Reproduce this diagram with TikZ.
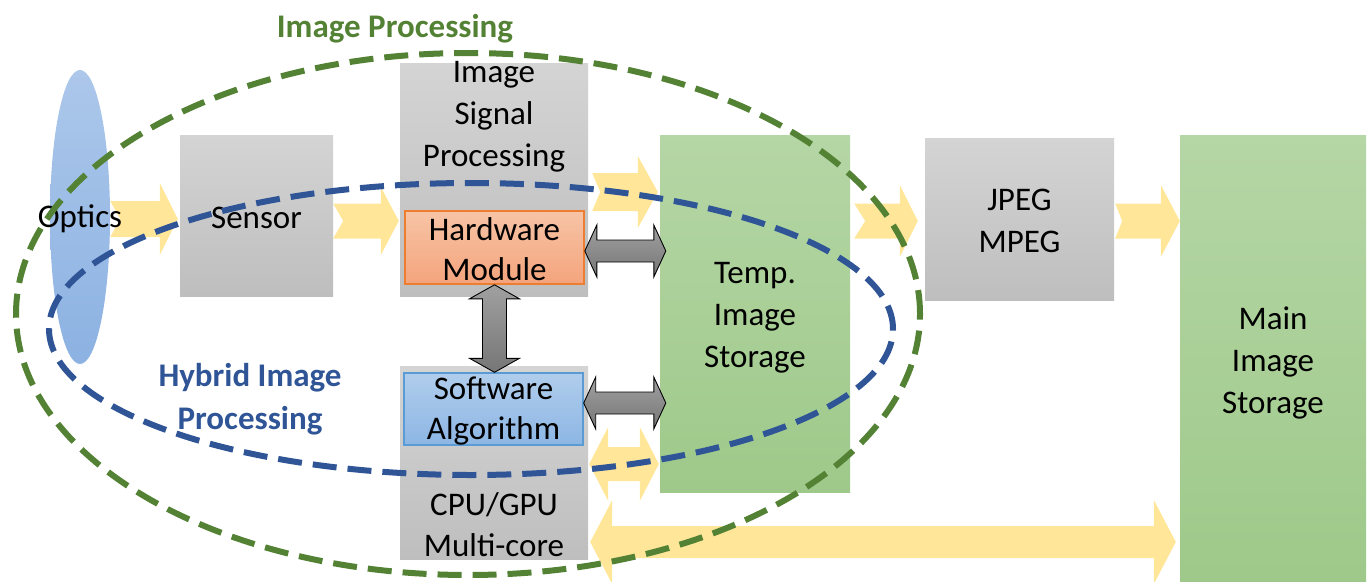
\documentclass[tikz,border=0pt]{standalone}
\usepackage{fontspec}
\setmainfont{Carlito}
\usetikzlibrary{calc,shapes.geometric}

\definecolor{graytop}{RGB}{212,212,212}
\definecolor{graybot}{RGB}{190,190,190}
\definecolor{greentop}{RGB}{181,214,165}
\definecolor{greenbot}{RGB}{158,201,138}
\definecolor{hwtop}{RGB}{247,196,166}
\definecolor{hwbot}{RGB}{244,164,124}
\definecolor{hwline}{RGB}{237,125,49}
\definecolor{swtop}{RGB}{176,205,236}
\definecolor{swbot}{RGB}{141,182,228}
\definecolor{swline}{RGB}{91,155,213}
\definecolor{lenstop}{RGB}{172,199,234}
\definecolor{lensbot}{RGB}{140,178,226}
\definecolor{flowyellow}{RGB}{255,230,153}
\definecolor{arrtop}{RGB}{160,160,160}
\definecolor{arrbot}{RGB}{118,118,118}
\definecolor{ringgreen}{RGB}{84,130,53}
\definecolor{ringblue}{RGB}{47,85,151}

% right-pointing block arrow with a notched tail
% #1 style, #2 tail point, #3 tip point, #4 half shaft, #5 half head, #6 head length, #7 notch depth
\newcommand{\rblock}[7]{%
  \path[#1] let \p1=#2, \p2=#3 in
    (\x1+#7,\y1) -- (\x1,\y1+#4) -- (\x2-#6,\y1+#4) -- (\x2-#6,\y1+#5) -- (\x2,\y1)
    -- (\x2-#6,\y1-#5) -- (\x2-#6,\y1-#4) -- (\x1,\y1-#4) -- cycle;}
% horizontal double-headed block arrow
% #1 style, #2 left tip, #3 right tip, #4 half shaft, #5 half head, #6 head length
\newcommand{\hdouble}[6]{%
  \path[#1] let \p1=#2, \p2=#3 in
    (\x1,\y1) -- (\x1+#6,\y1+#5) -- (\x1+#6,\y1+#4) -- (\x2-#6,\y1+#4) -- (\x2-#6,\y1+#5)
    -- (\x2,\y1) -- (\x2-#6,\y1-#5) -- (\x2-#6,\y1-#4) -- (\x1+#6,\y1-#4) -- (\x1+#6,\y1-#5) -- cycle;}
% vertical double-headed block arrow
% #1 style, #2 top tip, #3 bottom tip, #4 half shaft, #5 half head, #6 head length
\newcommand{\vdouble}[6]{%
  \path[#1] let \p1=#2, \p2=#3 in
    (\x1,\y1) -- (\x1+#5,\y1-#6) -- (\x1+#4,\y1-#6) -- (\x1+#4,\y2+#6) -- (\x1+#5,\y2+#6)
    -- (\x1,\y2) -- (\x1-#5,\y2+#6) -- (\x1-#4,\y2+#6) -- (\x1-#4,\y1-#6) -- (\x1-#5,\y1-#6) -- cycle;}

\tikzset{
  txt/.style={font=\fontsize{33}{42}\selectfont, align=center, text=black, inner sep=0pt},
  tighttxt/.style={font=\fontsize{33}{40}\selectfont},
  graybox/.style={rectangle, inner sep=0pt, top color=graytop, bottom color=graybot},
  greenbox/.style={rectangle, inner sep=0pt, top color=greentop, bottom color=greenbot},
  hwbox/.style={rectangle, inner sep=0pt, top color=hwtop, bottom color=hwbot, draw=hwline, line width=1.6pt},
  swbox/.style={rectangle, inner sep=0pt, top color=swtop, bottom color=swbot, draw=swline, line width=1.4pt},
  flow/.style={fill=flowyellow},
  link/.style={top color=arrtop, bottom color=arrbot, draw=black, line width=0.9pt, line join=miter},
  ring/.style={line width=6pt, dash pattern=on 24pt off 11pt},
  heading/.style={font=\bfseries\fontsize{33}{43}\selectfont, align=center, inner sep=0pt}
}

\begin{document}
\begin{tikzpicture}[x=1pt,y=-1pt]
\useasboundingbox (0,0) rectangle (1372,581);

% rows used by the flow arrows
\coordinate (r1) at (0,219);
\coordinate (r2) at (0,221);
\coordinate (r3) at (0,192);
\coordinate (r4) at (0,464);
\coordinate (r5) at (0,542);
\coordinate (r6) at (0,251);
\coordinate (r7) at (0,403);

% lens
\node[ellipse, minimum width=60pt, minimum height=294pt, inner sep=0pt,
      top color=lenstop, bottom color=lensbot] (optics) at (80,217) {};

% processing blocks
\node[graybox, minimum width=153pt, minimum height=161pt,
      label={[txt, yshift=-2pt]center:Sensor}] (sensor) at (256.5,215.5) {};
\node[graybox, minimum width=188pt, minimum height=233pt] (isp) at (494,179.5) {};
\node[graybox, minimum width=188pt, minimum height=193pt] (cpu) at (494,462.5) {};
\node[hwbox, minimum width=179pt, minimum height=73pt,
      label={[txt, tighttxt, yshift=-2pt]center:{Hardware\\Module}}] (hw) at (494.5,247.5) {};
\node[swbox, minimum width=179pt, minimum height=72pt,
      label={[txt, tighttxt, yshift=-2pt]center:{Software\\Algorithm}}] (sw) at (493.5,409) {};
\node[greenbox, minimum width=190pt, minimum height=357pt,
      label={[txt, yshift=-4pt]center:{Temp.\\Image\\Storage}}] (temp) at (755,313.5) {};
\node[graybox, minimum width=189pt, minimum height=162pt,
      label={[txt, yshift=-2pt]center:{JPEG\\MPEG}}] (jpeg) at (1019.5,219) {};
\node[greenbox, minimum width=186pt, minimum height=446pt,
      label={[txt, yshift=-5pt]center:{Main\\Image\\Storage}}] (main) at (1273,358) {};

% data flow
\rblock{flow}{(optics.east |- r1)}{($(sensor.west |- r1)+(-2,0)$)}{18pt}{36pt}{18pt}{10pt}
\rblock{flow}{(sensor.east |- r2)}{($(isp.west |- r2)+(-1,0)$)}{17.5pt}{34pt}{18pt}{10pt}
\rblock{flow}{($(isp.east |- r3)+(4,0)$)}{($(temp.west |- r3)+(-2,0)$)}{19pt}{36pt}{20pt}{8pt}
\rblock{flow}{($(temp.east |- r2)+(4,0)$)}{($(jpeg.west |- r2)+(-7,0)$)}{17.5pt}{36pt}{18pt}{11pt}
\rblock{flow}{($(jpeg.east |- r2)+(1,0)$)}{(main.west |- r2)}{17.5pt}{36pt}{19pt}{7pt}
\hdouble{flow}{($(cpu.east |- r4)+(1,0)$)}{($(temp.west |- r4)+(-1,0)$)}{17pt}{37pt}{19pt}
\hdouble{flow}{($(cpu.east |- r5)+(2,0)$)}{($(main.west |- r5)+(-4,0)$)}{16pt}{42pt}{22pt}

% links between the hybrid parts
\hdouble{link}{(hw.east |- r6)}{($(temp.west |- r6)+(6,0)$)}{11pt}{26pt}{12pt}
\hdouble{link}{(sw.east |- r7)}{($(temp.west |- r7)+(6,0)$)}{11pt}{26pt}{12pt}
\vdouble{link}{(hw.south)}{(sw.north)}{12pt}{25pt}{14pt}

% labels
\node[txt] (opticstext) at (80,219) {Optics};
\node[txt] (isptext) at (494,117) {Image\\Signal\\Processing};
\node[txt, font=\fontsize{33}{41}\selectfont] (cputext) at (494,525) {CPU/GPU\\Multi-core};
\node[heading, text=ringgreen] (iptitle) at (395,29) {Image Processing};
\node[heading, text=ringblue] (hybtitle) at (250,399) {Hybrid Image\\Processing};

% processing scopes
\draw[ring, draw=ringgreen] (468,314) ellipse (452pt and 261pt);
\draw[ring, draw=ringblue] (471,329) ellipse (422pt and 146pt);
\end{tikzpicture}
\end{document}
